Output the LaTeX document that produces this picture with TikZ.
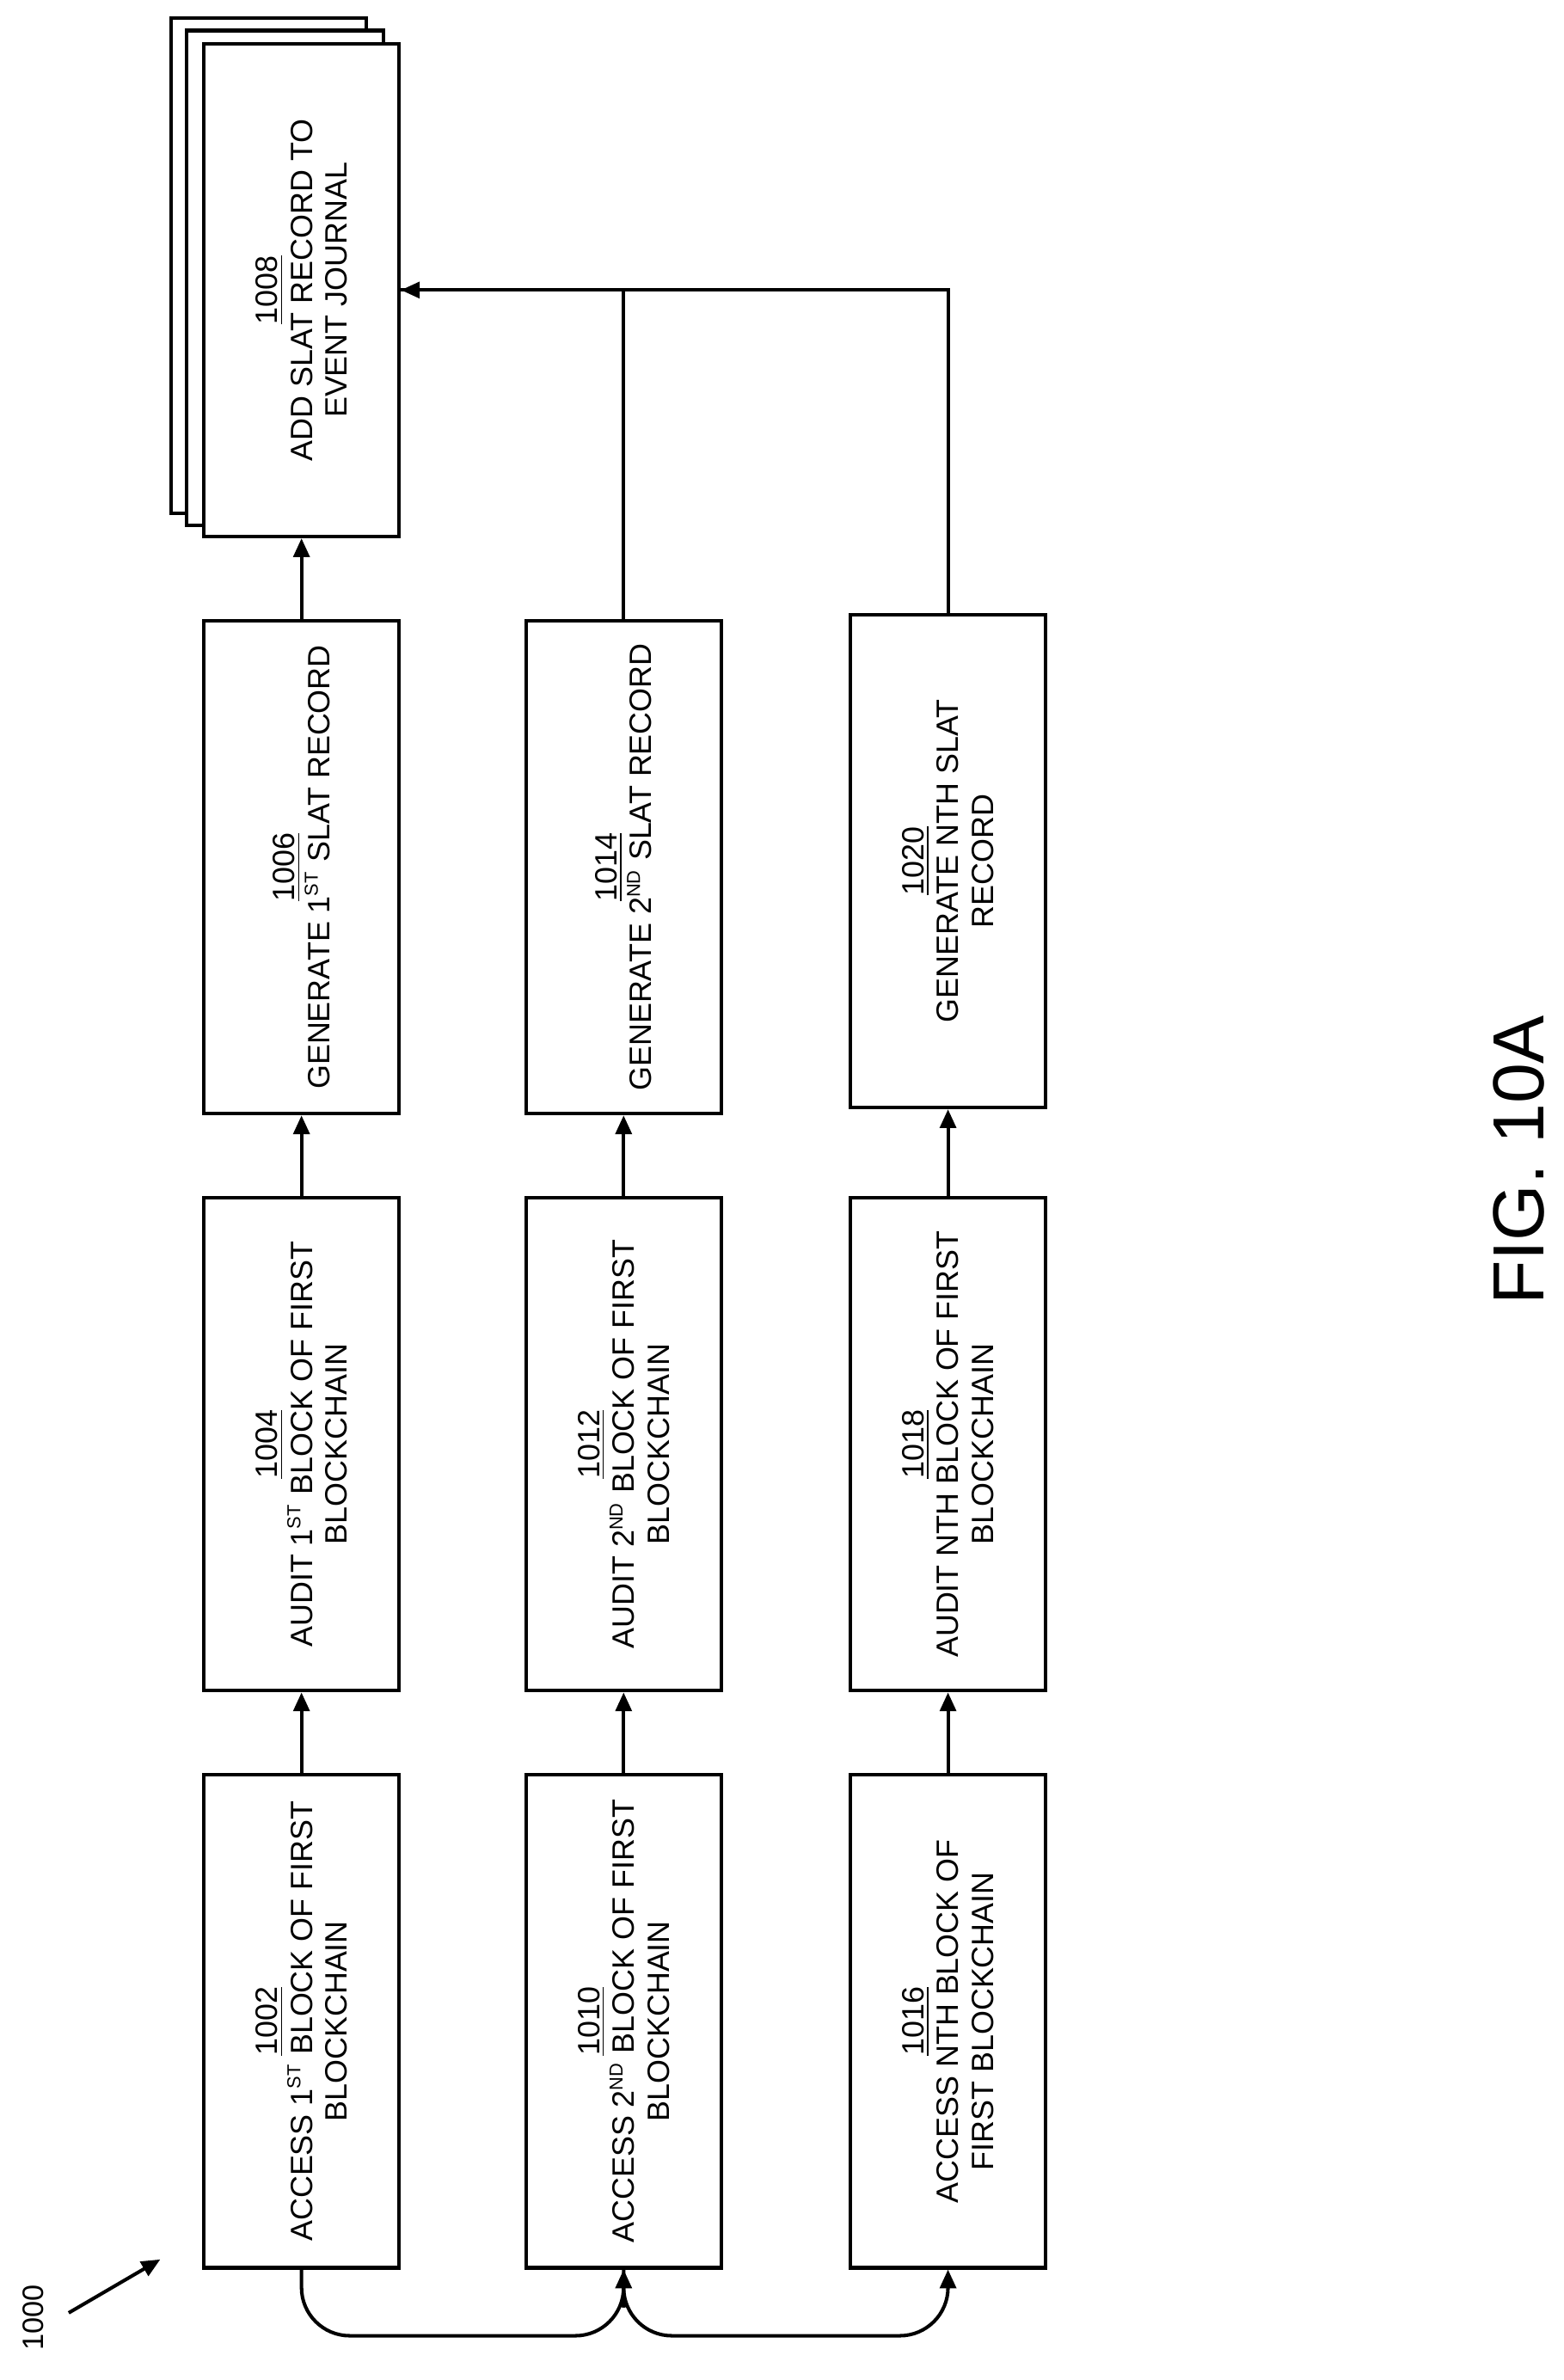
\documentclass[tikz,border=0pt]{standalone}
\usepackage{fontspec}
\setmainfont{Liberation Sans}
\usetikzlibrary{arrows.meta,calc}
\tikzset{
    flowbox/.style = { draw, line width=1.3pt, rotate=90, fill=white, align=center,
        minimum width=6.46cm, minimum height=2.56cm, inner sep=2pt,
        font=\fontsize{11.5}{13}\selectfont },
    flow/.style = { line width=1.3pt, -{Triangle[length=7pt,width=6pt]} }
}
\newcommand{\refno}[1]{\underline{#1}}
\newcommand{\ordsup}[1]{\textsuperscript{\fontsize{7}{7}\selectfont #1}}
\begin{document}
\begin{tikzpicture}[x=0.02cm,y=-0.02cm]
\useasboundingbox (0,0) rectangle (1024,1559);
% stacked journal pages
\draw[line width=1.3pt, fill=white] (112,12) rectangle (240,336);
\draw[line width=1.3pt, fill=white] (122,20) rectangle (251,344);
\node[flowbox] (j1008) at (197.5,190) {\refno{1008}\\ADD SLAT RECORD TO\\EVENT JOURNAL};
%
\node[flowbox] (g1006) at (197.5,568) {\refno{1006}\\GENERATE 1\ordsup{ST} SLAT RECORD};
\node[flowbox] (u1004) at (197.5,946) {\refno{1004}\\AUDIT 1\ordsup{ST} BLOCK OF FIRST\\BLOCKCHAIN};
\node[flowbox] (a1002) at (197.5,1324) {\refno{1002}\\ACCESS 1\ordsup{ST} BLOCK OF FIRST\\BLOCKCHAIN};
%
\node[flowbox] (g1014) at (408.5,568) {\refno{1014}\\GENERATE 2\ordsup{ND} SLAT RECORD};
\node[flowbox] (u1012) at (408.5,946) {\refno{1012}\\AUDIT 2\ordsup{ND} BLOCK OF FIRST\\BLOCKCHAIN};
\node[flowbox] (a1010) at (408.5,1324) {\refno{1010}\\ACCESS 2\ordsup{ND} BLOCK OF FIRST\\BLOCKCHAIN};
%
\node[flowbox] (g1020) at (621,564) {\refno{1020}\\GENERATE NTH SLAT\\RECORD};
\node[flowbox] (u1018) at (621,946) {\refno{1018}\\AUDIT NTH BLOCK OF FIRST\\BLOCKCHAIN};
\node[flowbox] (a1016) at (621,1324) {\refno{1016}\\ACCESS NTH BLOCK OF\\FIRST BLOCKCHAIN};
%
\foreach \Source/\Target in {%
        a1002/u1004, u1004/g1006, g1006/j1008,
        a1010/u1012, u1012/g1014,
        a1016/u1018, u1018/g1020%
    }
\draw[flow] (\Source.east) to (\Target.west);
%
\draw[line width=1.3pt] (g1014.east) |- (j1008.south);
\draw[flow] (g1020.east) |- (j1008.south);
%
\coordinate (fork) at (408.5,1530);
\draw[flow, rounded corners=18pt] (a1002.west) |- (fork) -| (a1010.west);
\draw[flow, rounded corners=18pt] (a1010.west) |- (fork) -| (a1016.west);
%
\node[rotate=90, font=\fontsize{11}{13}\selectfont] (fig) at (22,1518) {1000};
\coordinate (figtip) at (105,1480);
\draw[flow] (45,1515) -- (figtip);
\node[rotate=90, font=\fontsize{27}{30}\selectfont] (caption) at (995,760) {FIG. 10A};
\end{tikzpicture}
\end{document}
